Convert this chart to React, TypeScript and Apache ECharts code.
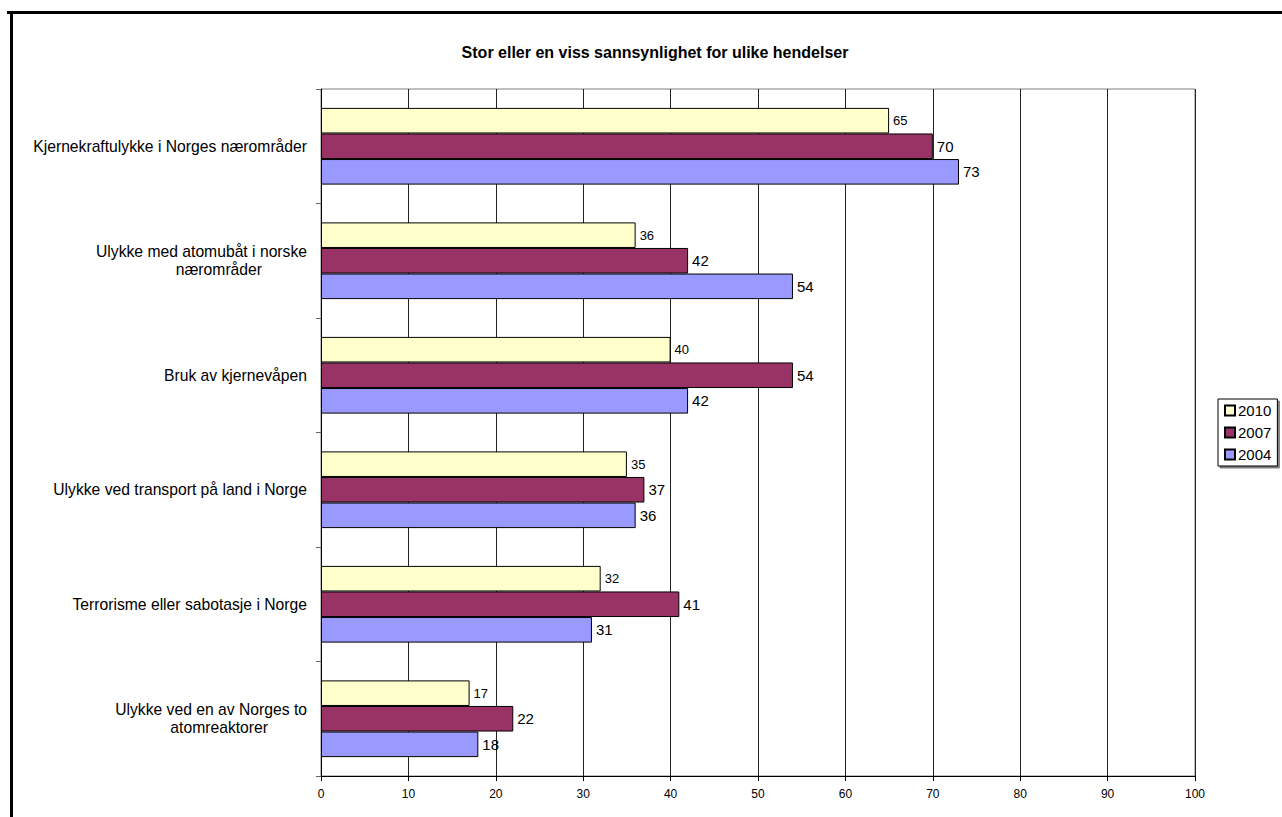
import React, { useEffect, useRef } from "react";
import * as echarts from "echarts";

const categories = [
  "Kjernekraftulykke i Norges nærområder",
  "Ulykke med atomubåt i norske nærområder",
  "Bruk av kjernevåpen",
  "Ulykke ved transport på land i Norge",
  "Terrorisme eller sabotasje i Norge",
  "Ulykke ved en av Norges to atomreaktorer",
];
const values2010 = [65, 36, 40, 35, 32, 17];
const values2007 = [70, 42, 54, 37, 41, 22];
const values2004 = [73, 54, 42, 36, 31, 18];
const xTicks = [0, 10, 20, 30, 40, 50, 60, 70, 80, 90, 100];
const titleText = "Stor eller en viss sannsynlighet for ulike hendelser";

const FONT = "Liberation Sans, Arial, sans-serif";

function catLabel(v: string): string {
  if (v === "Ulykke med atomubåt i norske nærområder") {
    return "{a|Ulykke med atomubåt i norske}\n{b|nærområder}";
  }
  if (v === "Ulykke ved en av Norges to atomreaktorer") {
    return "{a|Ulykke ved en av Norges to}\n{c|atomreaktorer}";
  }
  return "{a|" + v + "}";
}

export default function App() {
  const ref = useRef<HTMLDivElement>(null);
  useEffect(() => {
    if (!ref.current) return;
    const chart = echarts.init(ref.current, null, { renderer: "svg" });
    const mkSeries = (name: string, data: number[], color: string, fs: number) => ({
      name,
      type: "bar",
      data,
      barGap: "0%",
      barCategoryGap: "33%",
      itemStyle: { color, borderColor: "#000", borderWidth: 1 },
      label: {
        show: true,
        position: "right",
        distance: 4,
        color: "#000",
        fontSize: fs,
        fontFamily: FONT,
      },
    });
    chart.setOption({
      animation: false,
      backgroundColor: "#fff",
      title: {
        text: titleText,
        left: 650,
        top: 39,
        textAlign: "center",
        textStyle: { fontSize: 16, fontWeight: "bold", color: "#000", fontFamily: FONT },
      },
      legend: {
        orient: "vertical",
        left: 1218,
        top: 399,
        data: ["2010", "2007", "2004"],
        icon: "rect",
        itemWidth: 10,
        itemHeight: 10,
        itemGap: 7,
        padding: [4, 6, 4, 6],
        borderColor: "#000",
        borderWidth: 1,
        backgroundColor: "#fff",
        shadowColor: "rgba(0,0,0,0.5)",
        shadowOffsetX: 2,
        shadowOffsetY: 2,
        textStyle: { fontSize: 15, color: "#000", fontFamily: FONT, padding: [0, 0, 0, -2] },
      },
      grid: {
        left: 321,
        right: 87,
        top: 89,
        bottom: 41,
        show: true,
        borderColor: "#808080",
        borderWidth: 1,
      },
      xAxis: {
        type: "value",
        min: xTicks[0],
        max: xTicks[xTicks.length - 1],
        interval: 10,
        axisLine: { show: true, lineStyle: { color: "#000", width: 1 } },
        axisTick: { show: true, length: 5, lineStyle: { color: "#000" } },
        axisLabel: { fontSize: 12, color: "#000", fontFamily: FONT, margin: 12 },
        splitLine: { show: true, lineStyle: { color: "#222", width: 1 } },
      },
      yAxis: {
        type: "category",
        inverse: true,
        data: categories,
        axisLine: { show: true, lineStyle: { color: "#000", width: 1 } },
        axisTick: { show: true, length: 5, lineStyle: { color: "#666" } },
        axisLabel: {
          margin: 14,
          align: "right",
          formatter: catLabel,
          rich: {
            a: { fontSize: 15.7, color: "#000", fontFamily: FONT, lineHeight: 18, align: "right" },
            b: { fontSize: 15.7, color: "#000", fontFamily: FONT, lineHeight: 18, align: "right", padding: [0, 45, 0, 0] },
            c: { fontSize: 15.7, color: "#000", fontFamily: FONT, lineHeight: 18, align: "right", padding: [0, 39, 0, 0] },
          },
        },
      },
      graphic: [
        { type: "rect", shape: { x: 7, y: 11, width: 1275, height: 3 }, style: { fill: "#000" } },
        { type: "rect", shape: { x: 10, y: 11, width: 3, height: 806 }, style: { fill: "#000" } },
      ],
      series: [
        mkSeries("2010", values2010, "#FFFFCC", 13),
        mkSeries("2007", values2007, "#993366", 15),
        mkSeries("2004", values2004, "#9999FF", 15),
      ],
    });
    return () => chart.dispose();
  }, []);
  return (
    <div
      ref={ref}
      style={{ position: "absolute", left: 0, top: 0, width: 1282, height: 817 }}
    />
  );
}
